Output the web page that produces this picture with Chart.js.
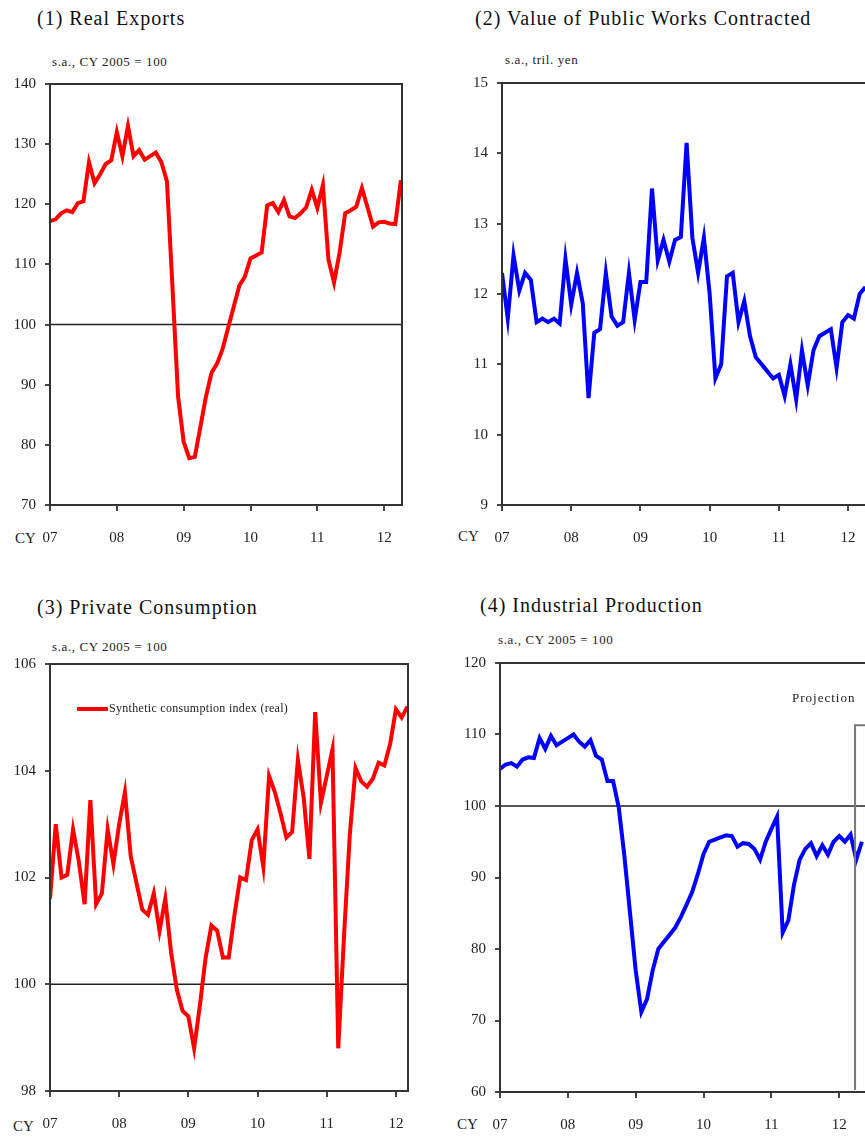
<!DOCTYPE html>
<html>
<head>
<meta charset="utf-8">
<script src="https://cdn.jsdelivr.net/npm/chart.js@4.4.1/dist/chart.umd.min.js"></script>
<style>
  body { margin: 0; width: 865px; height: 1139px; overflow: hidden; position: relative; background: #fff;
         font-family: "Liberation Serif", "Times New Roman", serif; color: #111; }
  canvas { position: absolute; }
  .ttl { position: absolute; font-size: 20px; line-height: 20px; letter-spacing: 1px; white-space: nowrap; }
  .unit { position: absolute; font-size: 13px; line-height: 13px; letter-spacing: 0.6px; white-space: nowrap; color: #222; }
  .cy { position: absolute; font-size: 15px; line-height: 15px; color: #222; }
  .leg { position: absolute; font-size: 12px; line-height: 12px; letter-spacing: 0.3px; white-space: nowrap; color: #222; }
  .leg i { display: inline-block; width: 31px; height: 4px; background: #ff0000; vertical-align: middle; margin-right: 1px; }
</style>
</head>
<body>

<div class="ttl" style="left:37px;top:8px">(1) Real Exports</div>
<div class="unit" style="left:52px;top:55px">s.a., CY 2005 = 100</div>
<div class="cy" style="left:15px;top:531px">CY</div>
<canvas id="c1" width="430" height="500" style="left:0;top:60px"></canvas>

<div class="ttl" style="left:475px;top:8px">(2) Value of Public Works Contracted</div>
<div class="unit" style="left:505px;top:53px">s.a., tril. yen</div>
<div class="cy" style="left:458px;top:529px">CY</div>
<canvas id="c2" width="440" height="500" style="left:440px;top:60px"></canvas>

<div class="ttl" style="left:37px;top:597px">(3) Private Consumption</div>
<div class="unit" style="left:52px;top:640px">s.a., CY 2005 = 100</div>
<div class="cy" style="left:13px;top:1119px">CY</div>
<canvas id="c3" width="430" height="499" style="left:0;top:640px"></canvas>
<div class="leg" style="left:77px;top:702px"><i></i>Synthetic consumption index (real)</div>

<div class="ttl" style="left:480px;top:595px">(4) Industrial Production</div>
<div class="unit" style="left:498px;top:633px">s.a., CY 2005 = 100</div>
<div class="cy" style="left:457px;top:1117px">CY</div>
<canvas id="c4" width="440" height="499" style="left:440px;top:640px"></canvas>
<div class="unit" style="left:792px;top:691px;letter-spacing:1px">Projection</div>

<script>
// monthly data, Jan 2007 onwards
const yearLabels = ['07', '08', '09', '10', '11', '12'];

const realExports = [
  117.2, 117.5, 118.5, 119.0, 118.7, 120.2, 120.5, 127.0, 123.5, 125.0, 126.7, 127.3,
  132.0, 128.0, 133.0, 128.0, 129.0, 127.4, 128.0, 128.6, 127.0, 123.8, 106.0, 88.0,
  80.5, 77.8, 78.0, 83.0, 88.0, 92.0, 93.5, 96.0, 99.5, 103.0, 106.5, 108.0,
  111.0, 111.5, 112.0, 119.8, 120.2, 118.7, 120.7, 118.0, 117.7, 118.5, 119.5, 122.4,
  119.4, 123.2, 110.8, 107.0, 112.0, 118.5, 119.0, 119.6, 122.7, 119.5, 116.3, 117.0,
  117.1, 116.8, 116.7, 124.0
];

const publicWorks = [
  12.3, 11.65, 12.55, 12.05, 12.3, 12.2, 11.6, 11.65, 11.6, 11.65, 11.58, 12.5,
  11.85, 12.3, 11.87, 10.52, 11.45, 11.5, 12.3, 11.68, 11.55, 11.6, 12.3, 11.63,
  12.17, 12.17, 13.5, 12.48, 12.77, 12.46, 12.77, 12.81, 14.15, 12.8, 12.3, 12.8,
  12.0, 10.8, 11.0, 12.25, 12.3, 11.6, 11.9, 11.4, 11.1, 11.0, 10.9, 10.8,
  10.85, 10.55, 11.0, 10.5, 11.2, 10.7, 11.2, 11.4, 11.45, 11.5, 10.95, 11.6,
  11.7, 11.65, 12.0, 12.1
];

const consumption = [
  101.6, 103.0, 102.0, 102.05, 102.9, 102.3, 101.5, 103.45, 101.5, 101.7, 102.9, 102.25,
  103.0, 103.6, 102.4, 101.9, 101.4, 101.3, 101.7, 101.0, 101.6, 100.6, 99.9, 99.5,
  99.4, 98.8, 99.6, 100.5, 101.1, 101.0, 100.5, 100.5, 101.3, 102.0, 101.95, 102.7,
  102.9, 102.2, 103.9, 103.6, 103.2, 102.75, 102.85, 104.2, 103.5, 102.35, 105.1, 103.4,
  103.9, 104.4, 98.8, 100.9, 102.8, 104.05, 103.8, 103.7, 103.85, 104.15, 104.1, 104.5,
  105.15, 105.0, 105.2
];

const industrial = [
  105.2, 105.8, 106.0, 105.5, 106.5, 106.8, 106.7, 109.5, 108.0, 109.8, 108.5, 109.0,
  109.5, 110.0, 109.0, 108.3, 109.2, 107.0, 106.5, 103.5, 103.5, 99.8, 93.0, 85.0,
  77.0, 71.2, 73.0, 77.0, 80.0, 81.0, 82.0, 83.0, 84.5, 86.2, 88.0, 90.5,
  93.3, 95.0, 95.3, 95.6, 95.9, 95.8, 94.3, 94.8, 94.7, 94.0, 92.5, 95.0,
  96.8, 98.5, 82.3, 84.0, 89.0, 92.5, 94.0, 94.8, 93.0, 94.5, 93.2, 95.0,
  95.8, 95.0, 96.0, 92.5, 95.0
];

// projection marker (month index, top value)
const projStart = 62.8;
const projTop = 111.3;

Chart.defaults.font.family = '"Liberation Serif", "Times New Roman", serif';
Chart.defaults.color = '#222';

// frame around plot area + base line at 100
const framePlugin = {
  id: 'frame',
  beforeDatasetsDraw(chart, args, opts) {
    const { ctx, chartArea: a, scales } = chart;
    if (opts.base == null) return;
    const y = scales.y.getPixelForValue(opts.base);
    ctx.save();
    ctx.strokeStyle = '#222';
    ctx.lineWidth = 1.5;
    ctx.beginPath();
    ctx.moveTo(a.left, y);
    ctx.lineTo(a.right, y);
    ctx.stroke();
    ctx.restore();
  },
  afterDatasetsDraw(chart, args, opts) {
    const { ctx, chartArea: a, scales } = chart;
    ctx.save();
    if (opts.proj) {
      const x = scales.x.getPixelForValue(opts.proj.start);
      const yTop = scales.y.getPixelForValue(opts.proj.top);
      ctx.strokeStyle = '#777';
      ctx.lineWidth = 2;
      ctx.beginPath();
      ctx.moveTo(x, a.bottom - 2);
      ctx.lineTo(x, yTop);
      ctx.lineTo(a.right, yTop);
      ctx.stroke();
    }
    ctx.strokeStyle = '#333';
    ctx.lineWidth = 2;
    ctx.strokeRect(a.left, a.top, a.right - a.left, a.bottom - a.top);
    ctx.restore();
  }
};

function makeChart(id, values, color, cfg) {
  const ctx = document.getElementById(id).getContext('2d');
  return new Chart(ctx, {
    type: 'line',
    data: {
      datasets: [{
        data: values.map((v, i) => ({ x: i, y: v })),
        borderColor: color,
        borderWidth: 4,
        pointRadius: 0,
        tension: 0
      }]
    },
    options: {
      responsive: false,
      animation: false,
      devicePixelRatio: 1,
      layout: { padding: { left: 0, top: cfg.top, right: cfg.right, bottom: 0 } },
      scales: {
        x: {
          type: 'linear',
          min: 0,
          max: cfg.xMax,
          afterBuildTicks: s => { s.ticks = yearLabels.map((l, i) => ({ value: i * 12 })); },
          afterFit: s => { s.height = cfg.xHeight; },
          grid: { drawOnChartArea: false, drawTicks: true, tickLength: 6, color: '#444', lineWidth: 2 },
          border: { display: false },
          ticks: {
            padding: 18,
            maxRotation: 0,
            autoSkip: false,
            font: { size: 15 },
            callback: v => yearLabels[v / 12]
          }
        },
        y: {
          min: cfg.yMin,
          max: cfg.yMax,
          afterFit: s => { s.width = cfg.yWidth; },
          grid: { drawOnChartArea: false, drawTicks: true, tickLength: 5, color: '#444', lineWidth: 2 },
          border: { display: false },
          ticks: { stepSize: cfg.step, padding: 9, font: { size: 15 } }
        }
      },
      plugins: {
        legend: { display: false },
        tooltip: { enabled: false },
        frame: { base: cfg.base, proj: cfg.proj }
      }
    },
    plugins: [framePlugin]
  });
}

makeChart('c1', realExports, '#ff0000',
  { top: 24, right: 28, xHeight: 55, yWidth: 50, xMax: 63.2, yMin: 70, yMax: 140, step: 10, base: 100 });
makeChart('c2', publicWorks, '#0000ff',
  { top: 23, right: 14, xHeight: 55, yWidth: 62, xMax: 63.1, yMin: 9, yMax: 15, step: 1, base: null });
makeChart('c3', consumption, '#ff0000',
  { top: 24, right: 22, xHeight: 48, yWidth: 50, xMax: 62.1, yMin: 98, yMax: 106, step: 2, base: 100 });
makeChart('c4', industrial, '#0000ff',
  { top: 23, right: 4, xHeight: 47, yWidth: 60, xMax: 66.5, yMin: 60, yMax: 120, step: 10, base: 100,
    proj: { start: projStart, top: projTop } });
</script>
</body>
</html>
